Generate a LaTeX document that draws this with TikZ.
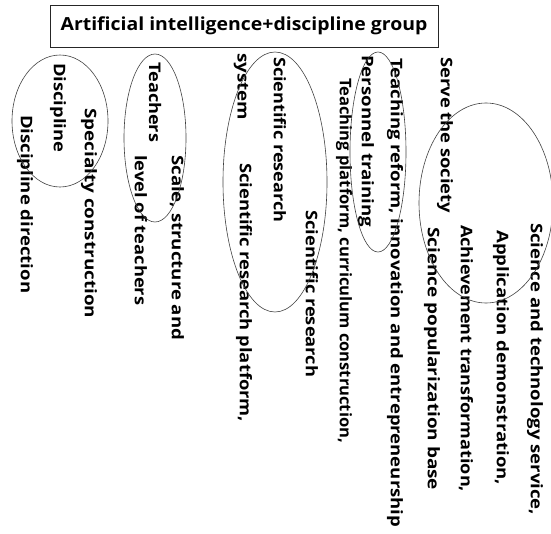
\documentclass[tikz,border=0pt]{standalone}
\usepackage{fontspec}
\usepackage{graphicx}
\setmainfont{Open Sans}
\newcommand\colnode[5]{%
  \node[lbl] (#1) at (#2,#3) {\resizebox{\dimexpr #4pt-#3pt\relax}{\height}{#5}};}
\begin{document}
\begin{tikzpicture}[x=1pt,y=-1pt,
  lbl/.style={rotate=-90,anchor=west,inner sep=0pt,
    font=\bfseries\fontsize{16}{16}\selectfont},
  ring/.style={draw=black!75,line width=0.6pt},
  titlebox/.style={draw=black!85,line width=0.9pt,inner sep=0pt,minimum width=388pt,minimum height=42pt},
  titletext/.style={inner sep=0pt,xscale=1.08,font=\bfseries\fontsize{18}{18}\selectfont}]
\useasboundingbox (0,0) rectangle (551,533);
\node[titlebox] (title) at (244,26) {};
\node[titletext] (titlet) at (title.center) {Artificial intelligence+discipline group};
% group 1
\colnode{d1}{25}{115}{293}{Discipline direction}
\colnode{d2}{58}{63}{152}{Discipline}
\colnode{d3}{89}{108}{318}{Specialty construction}
\draw[ring] (60,121) ellipse [x radius=48pt, y radius=66pt];
% group 2
\colnode{t1}{141}{155}{305}{level of teachers}
\colnode{t2}{155}{62}{142}{Teachers}
\colnode{t3}{177}{155}{340}{Scale, structure and}
\draw[ring] (155,138) ellipse [x radius=31pt, y radius=84pt];
% group 3
\colnode{s1}{241}{53}{120}{system}
\colnode{s2}{244}{163}{422}{Scientific research platform,}
\colnode{s3}{280}{57}{222}{Scientific research}
\colnode{s4}{312}{210}{377}{Scientific research}
\draw[ring] (275,182) ellipse [x radius=52pt, y radius=130pt];
% group 4
\colnode{p1}{344}{78}{443}{Teaching platform, curriculum construction,}
\colnode{p2}{366}{55}{227}{Personnel training}
\colnode{p3}{395}{58}{527}{Teaching reform, innovation and entrepreneurship}
\draw[ring] (378,152) ellipse [x radius=28pt, y radius=100pt];
% group 5
\colnode{v1}{432}{227}{490}{Science popularization base}
\colnode{v2}{445}{57}{213}{Serve the society}
\colnode{v3}{466}{225}{492}{Achievement transformation,}
\colnode{v4}{501}{230}{485}{Application demonstration,}
\colnode{v5}{535}{223}{515}{Science and technology service,}
\draw[ring] (486,203) ellipse [x radius=67pt, y radius=100pt];
\end{tikzpicture}
\end{document}
